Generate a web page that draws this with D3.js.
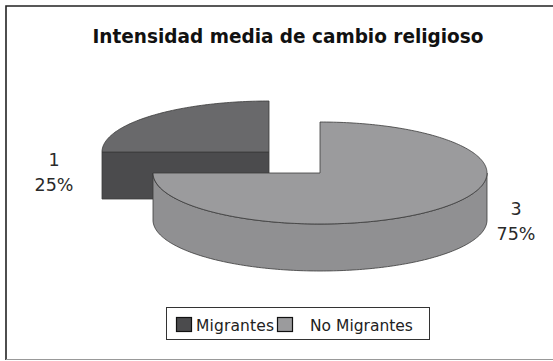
<!DOCTYPE html>
<html><head><meta charset="utf-8">
<script src="https://cdn.jsdelivr.net/npm/d3@7"></script>
<style>body{margin:0;background:#fff}</style>
</head><body>
<svg id="c" width="553" height="361"></svg>
<script>
const categories = ["Migrantes", "No Migrantes"];
const values = [1, 3];
const percentLabels = ["25%", "75%"];
const titleText = "Intensidad media de cambio religioso";

const topColors = ["#69696b", "#9b9b9d"];
const sideColors = ["#4b4b4d", "#909092"];

const svg = d3.select("#c");

// frame
svg.append("path").attr("d", "M6,360 L6,6 L553,6").attr("fill","none").attr("stroke","#222").attr("stroke-width",1.6);
svg.append("line").attr("x1",6).attr("x2",553).attr("y1",359.5).attr("y2",359.5).attr("stroke","#999").attr("stroke-width",1.2);

svg.append("text").attr("x", 288).attr("y", 43).attr("text-anchor","middle")
  .attr("font-family","DejaVu Sans Condensed, DejaVu Sans, sans-serif").attr("font-weight","bold")
  .attr("font-size", 19.5).attr("fill","#111")
  .attr("textLength", 391).attr("lengthAdjust","spacingAndGlyphs").text(titleText);

const pie = d3.pie().sort(null).startAngle(-Math.PI/2).endAngle(1.5*Math.PI);
const arcs = pie(values);

const cx = 320, cy = 173, rx = 167, ry = 51, depth = 47;
const offsets = [[-51, -21], [0, 0]];
const line = d3.line();

function pt(a, ox, oy, dz) { return [cx + ox + rx*Math.sin(a), cy + oy - ry*Math.cos(a) + (dz||0)]; }
function arcPts(a0, a1, ox, oy, dz) {
  const n = Math.max(8, Math.ceil(Math.abs(a1-a0)/0.02));
  return d3.range(n+1).map(i => pt(a0 + (a1-a0)*i/n, ox, oy, dz));
}

const stroke = "#3a3a3a", sw = 0.8;

arcs.forEach((d, i) => {
  const [ox, oy] = offsets[i];
  const c0 = [cx+ox, cy+oy];
  const g = svg.append("g");
  const w0 = Math.max(d.startAngle, Math.PI/2), w1 = Math.min(d.endAngle, 1.5*Math.PI);
  if (w1 > w0) {
    const top = arcPts(w0, w1, ox, oy, 0);
    const bot = arcPts(w1, w0, ox, oy, depth);
    g.append("path").attr("d", line(top.concat(bot)) + "Z")
      .attr("fill", sideColors[i]).attr("stroke", stroke).attr("stroke-width", sw);
  }
  const sa = d.startAngle;
  if (Math.abs(Math.sin(sa)) > 0.99 && i === 0) {
    const p = pt(sa, ox, oy, 0);
    const face = [c0, p, [p[0], p[1]+depth], [c0[0], c0[1]+depth]];
    g.append("path").attr("d", line(face) + "Z")
      .attr("fill", sideColors[i]).attr("stroke", stroke).attr("stroke-width", sw);
  }
  const topPts = [c0].concat(arcPts(d.startAngle, d.endAngle, ox, oy, 0));
  g.append("path").attr("d", line(topPts) + "Z")
    .attr("fill", topColors[i]).attr("stroke", stroke).attr("stroke-width", sw);
});

// data labels
const lblPos = [[54, 166], [516, 215]];
arcs.forEach((d, i) => {
  const t = svg.append("text").attr("text-anchor","middle")
    .attr("font-family","DejaVu Sans, sans-serif").attr("font-size", 17.5).attr("fill","#2a2a2a");
  t.append("tspan").attr("x", lblPos[i][0]).attr("y", lblPos[i][1]).text(values[i]);
  t.append("tspan").attr("x", lblPos[i][0]).attr("y", lblPos[i][1] + 25).text(percentLabels[i]);
});

// legend
const lg = svg.append("g");
lg.append("rect").attr("x", 166.5).attr("y", 307.5).attr("width", 263).attr("height", 32)
  .attr("fill","#fff").attr("stroke","#333").attr("stroke-width",1);
const legX = [176, 277], legTX = [196, 310];
categories.forEach((c, i) => {
  lg.append("rect").attr("x", legX[i]+0.5).attr("y", 317.5).attr("width", 15).attr("height", 14)
    .attr("fill", i===0 ? sideColors[0] : topColors[1]).attr("stroke","#111").attr("stroke-width",1.2);
  lg.append("text").attr("x", legTX[i]).attr("y", 331).attr("font-family","DejaVu Sans, sans-serif")
    .attr("font-size", 15.5).attr("fill","#222").attr("textLength", i===0 ? 78 : null).text(c);
});
</script>
</body></html>
